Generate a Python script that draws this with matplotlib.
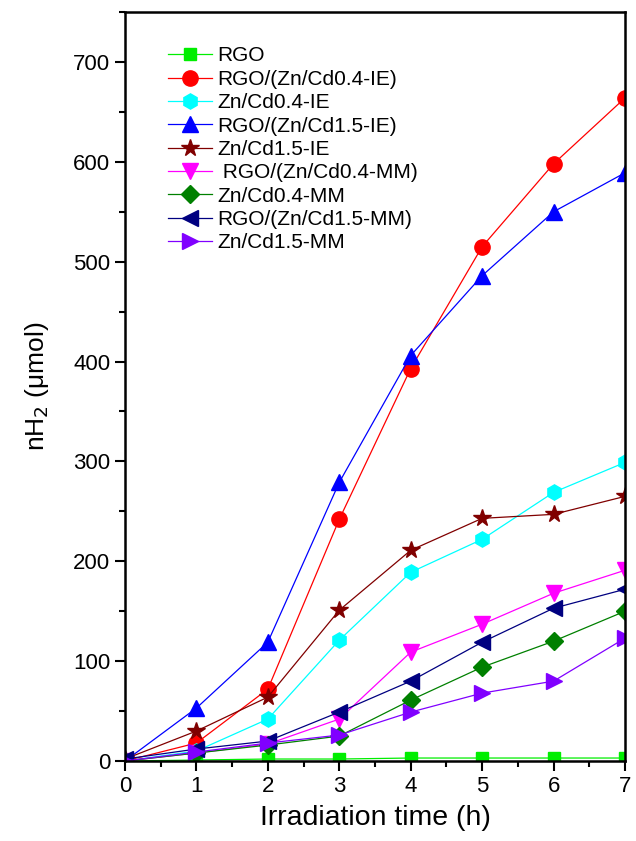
import numpy as np
import matplotlib.pyplot as plt
from matplotlib.ticker import MultipleLocator

plt.rcParams['font.family'] = ['Liberation Sans', 'DejaVu Sans']

### DATA ###
t = [0, 1, 2, 3, 4, 5, 6, 7]
rgo = [0, 1, 2, 2, 3, 3, 3, 3]
rgo_cd04_ie = [0, 18, 72, 242, 393, 515, 598, 664]
cd04_ie = [0, 10, 42, 121, 189, 222, 269, 299]
rgo_cd15_ie = [0, 53, 119, 279, 406, 486, 550, 589]
cd15_ie = [2, 30, 64, 151, 211, 243, 247, 265]
rgo_cd04_mm = [0, 8, 17, 42, 109, 137, 168, 191]
cd04_mm = [0, 8, 16, 25, 61, 94, 120, 150]
rgo_cd15_mm = [2, 12, 20, 49, 80, 119, 153, 172]
cd15_mm = [0, 9, 18, 26, 49, 68, 80, 123]

labels = ['RGO', 'RGO/(Zn/Cd0.4-IE)', 'Zn/Cd0.4-IE', 'RGO/(Zn/Cd1.5-IE)',
          'Zn/Cd1.5-IE', ' RGO/(Zn/Cd0.4-MM)', 'Zn/Cd0.4-MM',
          'RGO/(Zn/Cd1.5-MM)', 'Zn/Cd1.5-MM']
series = [rgo, rgo_cd04_ie, cd04_ie, rgo_cd15_ie, cd15_ie,
          rgo_cd04_mm, cd04_mm, rgo_cd15_mm, cd15_mm]
colors = ['#00ee00', '#ff0000', '#00ffff', '#0000ff', '#800000',
          '#ff00ff', '#008000', '#000080', '#8000ff']
markers = ['s', 'o', 'h', '^', '*', 'v', 'D', '<', '>']
sizes = [8, 11, 11, 12, 13, 12, 9, 12, 12]

fig = plt.figure(figsize=(6.36, 8.41), dpi=100)
ax = fig.add_axes([0.1965, 0.0951, 0.7862, 0.8906])

for y, lab, c, m, s in zip(series, labels, colors, markers, sizes):
    ax.plot(t, y, color=c, marker=m, markersize=s, lw=0.9, label=lab,
            zorder=3)

ax.set_xlim(0, 7)
ax.set_ylim(0, 750)
ax.xaxis.set_major_locator(MultipleLocator(1))
ax.xaxis.set_minor_locator(MultipleLocator(0.5))
ax.yaxis.set_major_locator(MultipleLocator(100))
ax.yaxis.set_minor_locator(MultipleLocator(50))
ax.set_yticks(np.arange(0, 701, 100))
ax.tick_params(which='major', direction='out', length=7, width=1.5, labelsize=16)
ax.tick_params(which='minor', direction='out', length=4, width=1.5)
for sp in ax.spines.values():
    sp.set_linewidth(1.8)
    sp.set_zorder(4)

ax.set_xlabel('Irradiation time (h)', fontsize=20.5, labelpad=6)
ax.set_ylabel(r'nH$_2$ ($\mathregular{\mu}$mol)', fontsize=19, labelpad=16)

ax.legend(loc='upper left', bbox_to_anchor=(0.086, 0.954), frameon=False,
          fontsize=15, handlelength=2.1, handletextpad=0.25,
          labelspacing=0.21, borderpad=0, borderaxespad=0)

fig.savefig('out.png', dpi=100)
